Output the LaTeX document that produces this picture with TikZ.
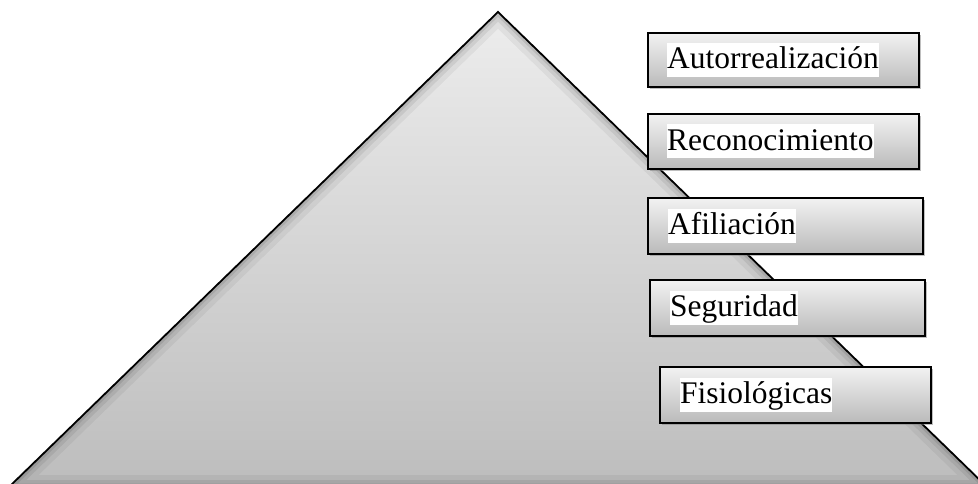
\documentclass[tikz,border=0pt]{standalone}
\usepackage{fontspec}
\setmainfont{Liberation Serif}
\usetikzlibrary{shadows,positioning}
\begin{document}
\begin{tikzpicture}[x=1bp,y=-1bp,
  levelbox/.style={draw=black, line width=1.8bp, rectangle, anchor=north west,
    top color=black!5, bottom color=black!27,
    drop shadow={shadow xshift=2.5bp, shadow yshift=-2.5bp, opacity=0.5}},
  leveltext/.style={fill=white, inner sep=0pt, anchor=west,
    font=\fontsize{31.6}{36}\selectfont, text height=26bp, text depth=8bp}]
  \useasboundingbox (0,0) rectangle (978,484);
  % pyramid body
  \coordinate (apex) at (498,12);
  \coordinate (bl) at (9,487);
  \coordinate (br) at (987,487);
  \begin{scope}
    \clip (0,0) rectangle (978,484);
    \shade[top color=black!7, bottom color=black!26] (apex) -- (bl) -- (br) -- cycle;
    % soft inner shadow along the edges
    \begin{scope}
      \clip (apex) -- (bl) -- (br) -- cycle;
      \draw[black, opacity=0.05, line width=24bp, line join=round] (apex) -- (bl) -- (br) -- cycle;
      \draw[black, opacity=0.07, line width=14bp, line join=round] (apex) -- (bl) -- (br) -- cycle;
      \draw[black, opacity=0.09, line width=7bp, line join=round] (apex) -- (bl) -- (br) -- cycle;
    \end{scope}
    \draw[black, line width=1.8bp, line join=miter] (bl) -- (apex) -- (br);
  \end{scope}
  % level boxes
  \node[levelbox, minimum width=271bp, minimum height=54bp] (b1) at (647,32) {};
  \node[levelbox, minimum width=271bp, minimum height=55bp] (b2) at (647,113) {};
  \node[levelbox, minimum width=275bp, minimum height=56bp] (b3) at (647,197) {};
  \node[levelbox, minimum width=275bp, minimum height=56bp] (b4) at (649,279) {};
  \node[levelbox, minimum width=271bp, minimum height=56bp] (b5) at (659,366) {};
  % level labels
  \node[leveltext] (t1) at ([xshift=20bp]b1.west) {Autorrealización};
  \node[leveltext] (t2) at ([xshift=20bp]b2.west) {Reconocimiento};
  \node[leveltext] (t3) at ([xshift=21bp]b3.west) {Afiliación};
  \node[leveltext] (t4) at ([xshift=21bp]b4.west) {Seguridad};
  \node[leveltext] (t5) at ([xshift=21bp]b5.west) {Fisiológicas};
\end{tikzpicture}
\end{document}
